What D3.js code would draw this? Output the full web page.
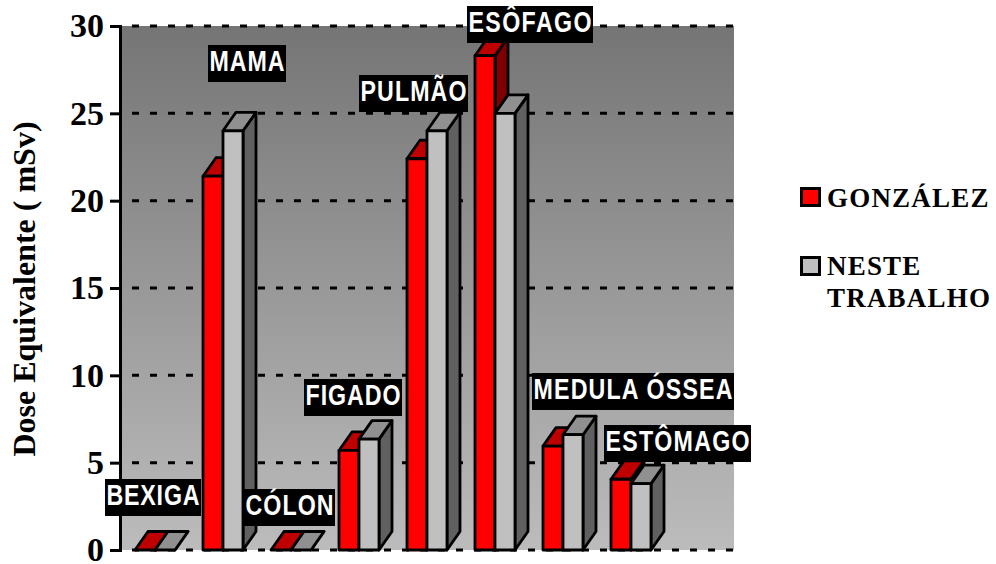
<!DOCTYPE html>
<html>
<head>
<meta charset="utf-8">
<script src="https://cdn.jsdelivr.net/npm/d3@7"></script>
<style>
  html, body { margin: 0; padding: 0; background: #fff; }
  svg { display: block; }
</style>
</head>
<body>
<svg id="chart" width="996" height="564"></svg>
<script>
// Equivalent dose per organ, in mSv
const organs = ["BEXIGA", "MAMA", "CÓLON", "FIGADO", "PULMÃO", "ESÔFAGO", "MEDULA ÓSSEA", "ESTÔMAGO"];
const gonzalez = [0, 21.4, 0, 5.7, 22.4, 28.3, 5.95, 4.05];
const nesteTrabalho = [0, 24, 0, 6.35, 24, 25, 6.6, 3.8];
const yTicks = [0, 5, 10, 15, 20, 25, 30];

// Hand-placed organ captions: left, right and top edges of each black box
const captionBoxes = [
  [105, 201, 479], [208, 286, 45], [244, 335, 489], [304, 402, 379],
  [359, 468, 75], [467, 593, 6], [532, 734, 373], [604, 751, 425]
];

const wall = { left: 120, right: 734, top: 26, bottom: 550 };
const depth = { dx: 13, dy: 18.5 };
const serif = "'Liberation Serif', 'Times New Roman', serif";
const sans = "'Liberation Sans', Arial, sans-serif";

const series = [
  { key: "GONZÁLEZ", values: gonzalez, front: "#ff0000", top: "#bf0000", side: "#7f0000" },
  { key: "NESTE TRABALHO", values: nesteTrabalho, front: "#c0c0c0", top: "#909090", side: "#606060" }
];

const svg = d3.select("#chart");

const x = d3.scaleBand().domain(organs).range([121, 665]);
const inner = d3.scaleBand().domain(series.map(s => s.key)).range([0, 40]);
const y = d3.scaleLinear().domain([0, 30]).range([wall.bottom, wall.top]);

// Back wall with its vertical grey ramp
const grad = svg.append("defs").append("linearGradient")
  .attr("id", "wallRamp").attr("x1", 0).attr("x2", 0).attr("y1", 0).attr("y2", 1);
grad.append("stop").attr("offset", "0%").attr("stop-color", "#757575");
grad.append("stop").attr("offset", "100%").attr("stop-color", "#bcbcbc");

svg.append("rect")
  .attr("x", wall.left).attr("y", wall.top)
  .attr("width", wall.right - wall.left).attr("height", wall.bottom - wall.top)
  .attr("fill", "url(#wallRamp)");

// Dashed gridlines, including the zero line
svg.append("g").selectAll("line").data(yTicks).join("line")
  .attr("x1", wall.left + 12).attr("x2", wall.right + 1)
  .attr("y1", d => y(d)).attr("y2", d => y(d))
  .attr("stroke", "#000").attr("stroke-width", 3)
  .attr("stroke-dasharray", "7 11");

// Value axis
const axis = svg.append("g")
  .attr("transform", `translate(${wall.left},0)`)
  .call(d3.axisLeft(y).tickValues(yTicks).tickSize(10).tickPadding(6));
axis.select(".domain").attr("stroke", "#000").attr("stroke-width", 3);
axis.selectAll(".tick line").attr("stroke", "#000").attr("stroke-width", 3);
axis.selectAll(".tick text")
  .attr("font-family", serif).attr("font-weight", "bold")
  .attr("font-size", 34).attr("dy", "0.32em").attr("fill", "#000");

// Extruded bars: red first so the grey bar overlaps its side face
const barWidth = inner.bandwidth();
const faceStyle = sel => sel
  .attr("stroke", "#000").attr("stroke-width", 2.8).attr("stroke-linejoin", "round");

organs.forEach((organ, i) => {
  series.forEach(s => {
    const v = s.values[i];
    const x0 = x(organ) + (x.bandwidth() - 40) / 2 + inner(s.key);
    const x1 = x0 + barWidth;
    const yt = y(v);
    const yb = y(0);
    const g = svg.append("g").attr("class", "bar");

    g.append("polygon")
      .attr("points", [[x1, yt], [x1 + depth.dx, yt - depth.dy], [x1 + depth.dx, yb - depth.dy], [x1, yb]].join(" "))
      .attr("fill", s.side).call(faceStyle);
    g.append("polygon")
      .attr("points", [[x0, yt], [x0 + depth.dx, yt - depth.dy], [x1 + depth.dx, yt - depth.dy], [x1, yt]].join(" "))
      .attr("fill", s.top).call(faceStyle);
    g.append("rect")
      .attr("x", x0).attr("y", yt).attr("width", barWidth).attr("height", yb - yt)
      .attr("fill", s.front).call(faceStyle);
  });
});

// Organ captions, white on black, in a condensed and widely spaced cut
const captionSqueeze = 0.8;
organs.forEach((organ, i) => {
  const [bx0, bx1, by0] = captionBoxes[i];
  svg.append("rect")
    .attr("x", bx0).attr("y", by0).attr("width", bx1 - bx0).attr("height", 37).attr("fill", "#000");
  svg.append("text")
    .attr("transform", `translate(${bx0 + 1.5},${by0 + 26}) scale(${captionSqueeze},1)`)
    .attr("textLength", (bx1 - bx0 - 3) / captionSqueeze).attr("lengthAdjust", "spacing")
    .attr("font-family", sans).attr("font-weight", "bold").attr("font-size", 29)
    .attr("fill", "#fff").text(organ);
});

// Value axis title
svg.append("text")
  .attr("transform", "translate(35,289) rotate(-90)")
  .attr("text-anchor", "middle")
  .attr("font-family", serif).attr("font-weight", "bold").attr("font-size", 32)
  .attr("fill", "#000").text("Dose Equivalente ( mSv)");

// Legend
const legendRows = [
  { fill: series[0].front, boxY: 187, lines: [["GONZÁLEZ", 207]] },
  { fill: series[1].front, boxY: 256, lines: [["NESTE", 275], ["TRABALHO", 307]] }
];
legendRows.forEach(row => {
  svg.append("rect")
    .attr("x", 801.5).attr("y", row.boxY + 1.5).attr("width", 18).attr("height", 17)
    .attr("fill", row.fill).attr("stroke", "#000").attr("stroke-width", 3);
  row.lines.forEach(([label, base]) => {
    svg.append("text")
      .attr("x", 827).attr("y", base)
      .attr("font-family", serif).attr("font-weight", "bold").attr("font-size", 27)
      .attr("letter-spacing", 1.2).attr("fill", "#000").text(label);
  });
});
</script>
</body>
</html>
